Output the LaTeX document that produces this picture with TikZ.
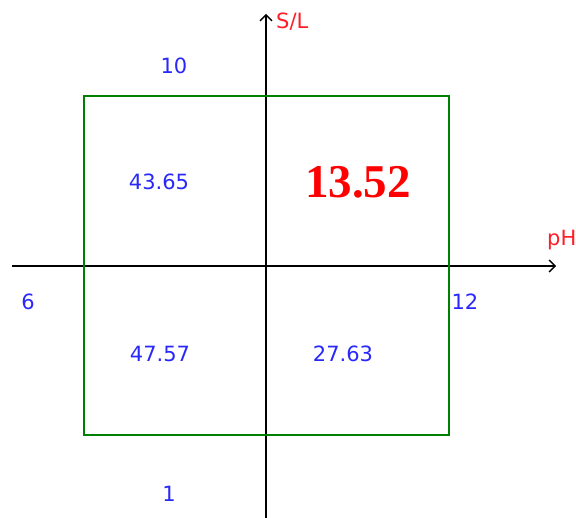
\documentclass[tikz,border=0pt]{standalone}
\usepackage{fontspec}
\setmainfont{DejaVu Sans}
\newfontfamily\bigvalfont{Liberation Serif}
\usetikzlibrary{arrows.meta}

\definecolor{valblue}{RGB}{40,40,250}
\definecolor{axred}{RGB}{255,30,40}
\definecolor{boxgreen}{RGB}{0,128,0}

\begin{document}
\begin{tikzpicture}[
  x=1pt, y=-1pt,
  axis/.style={-{Straight Barb[length=6pt,width=12pt,line width=1.3pt]}, line width=1.6pt},
  quad/.style={draw=boxgreen, line width=1.6pt},
  val/.style={text=valblue, inner sep=0pt, font=\fontsize{21}{21}\selectfont},
  axlbl/.style={text=axred, inner sep=0pt, font=\fontsize{21}{21}\selectfont},
  big/.style={text=red, inner sep=0pt, font=\bigvalfont\bfseries\fontsize{47}{47}\selectfont}
]
\useasboundingbox (0,0) rectangle (576,518);
\clip (0,0) rectangle (576,518);

% axes
\coordinate (xstart) at (12,266);
\coordinate (xend) at (556,266);
\coordinate (ystart) at (266,518);
\coordinate (yend) at (266,14);
\draw[axis] (xstart) -- (xend);
\draw[axis] (ystart) -- (yend);

% box
\node[quad, minimum width=365pt, minimum height=339pt, inner sep=0pt] (box) at (266.5,265.5) {};

% axis labels
\node[axlbl, anchor=west] (sl) at (276,22) {S/L};
\node[axlbl, anchor=west] (ph) at (547,240) {pH};

% limits
\node[val] (top) at (174,66) {10};
\node[val] (bottom) at (169,494) {1};
\node[val] (left) at (28,302) {6};
\node[val] (right) at (465,302) {12};

% quadrant values
\node[val] (ul) at (159,182) {43.65};
\node[big] (ur) at (358,182) {13.52};
\node[val] (ll) at (160,354) {47.57};
\node[val] (lr) at (343,354) {27.63};
\end{tikzpicture}
\end{document}
